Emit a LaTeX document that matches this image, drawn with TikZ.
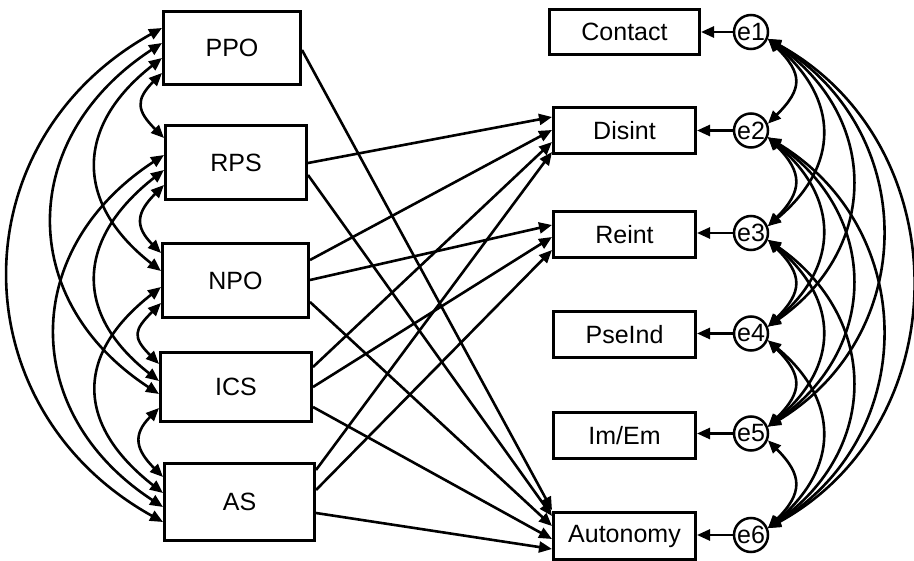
\documentclass[tikz,border=0pt]{standalone}
\usepackage{fontspec}
\setmainfont{Liberation Sans}
\usetikzlibrary{arrows.meta}
\begin{document}
\begin{tikzpicture}[x=1pt,y=1pt,
  box/.style={draw, line width=3pt, inner sep=0pt, font=\fontsize{25}{30}\selectfont},
  err/.style={draw, circle, line width=2.5pt, inner sep=0pt, minimum size=34pt, font=\fontsize{25}{30}\selectfont},
  arr/.style={-{Triangle[length=13pt,width=11pt]}, line width=2.6pt},
  biarr/.style={{Triangle[length=13pt,width=11pt]}-{Triangle[length=13pt,width=11pt]}, line width=2.6pt}]
\useasboundingbox (0,0) rectangle (914,-561);
% exogenous boxes
\node[box, minimum width=137pt, minimum height=73pt] (PPO) at (232,-48) {PPO};
\node[box, minimum width=141pt, minimum height=74pt] (RPS) at (236,-162.5) {RPS};
\node[box, minimum width=146pt, minimum height=74pt] (NPO) at (235.5,-280.5) {NPO};
\node[box, minimum width=151pt, minimum height=69pt] (ICS) at (236,-387) {ICS};
\node[box, minimum width=150pt, minimum height=77pt] (AS) at (239.5,-502) {AS};
% endogenous boxes
\node[box, minimum width=150pt, minimum height=45pt] (Contact) at (624.5,-32) {Contact};
\node[box, minimum width=142pt, minimum height=46pt] (Disint) at (624.5,-130.5) {Disint};
\node[box, minimum width=142pt, minimum height=46pt] (Reint) at (624.5,-235) {Reint};
\node[box, minimum width=142pt, minimum height=46pt] (PseInd) at (624.5,-334.5) {PseInd};
\node[box, minimum width=142pt, minimum height=46pt] (ImEm) at (624.5,-436) {Im/Em};
\node[box, minimum width=142pt, minimum height=46pt] (Autonomy) at (624.5,-536) {Autonomy};
% error terms
\node[err] (e1) at (751,-32) {e1};
\node[err] (e2) at (751,-130.5) {e2};
\node[err] (e3) at (751,-233) {e3};
\node[err] (e4) at (751,-333.5) {e4};
\node[err] (e5) at (751,-433.5) {e5};
\node[err] (e6) at (751,-535) {e6};
% error arrows
\draw[arr] (e1) -- (e1 -| Contact.east);
\draw[arr] (e2) -- (e2 -| Disint.east);
\draw[arr] (e3) -- (e3 -| Reint.east);
\draw[arr] (e4) -- (e4 -| PseInd.east);
\draw[arr] (e5) -- (e5 -| ImEm.east);
\draw[arr] (e6) -- (e6 -| Autonomy.east);
% regression paths
\draw[arr] ([yshift=-2pt]PPO.east) -- ([yshift=26pt]Autonomy.west);
\draw[arr] ([yshift=-0.5pt]RPS.east) -- ([yshift=13.5pt]Disint.west);
\draw[arr] ([yshift=-12.5pt]RPS.east) -- ([yshift=20pt]Autonomy.west);
\draw[arr] ([yshift=20.5pt]NPO.east) -- ([yshift=0.5pt]Disint.west);
\draw[arr] ([yshift=0.5pt]NPO.east) -- ([yshift=10pt]Reint.west);
\draw[arr] ([yshift=-21.5pt]NPO.east) -- ([yshift=10pt]Autonomy.west);
\draw[arr] ([yshift=20pt]ICS.east) -- ([yshift=-11.5pt]Disint.west);
\draw[arr] (ICS.east) -- ([yshift=-2pt]Reint.west);
\draw[arr] ([yshift=-20pt]ICS.east) -- ([yshift=-3pt]Autonomy.west);
\draw[arr] ([yshift=32pt]AS.east) -- ([yshift=-21.5pt]Disint.west);
\draw[arr] ([yshift=12pt]AS.east) -- ([yshift=-15pt]Reint.west);
\draw[arr] ([yshift=-11pt]AS.east) -- ([yshift=-13pt]Autonomy.west);
% covariances among exogenous variables
\draw[biarr] ([yshift=-25pt]PPO.west) .. controls +(-27,-27) and +(-27,27) .. ([yshift=24.5pt]RPS.west);
\draw[biarr] ([yshift=-22.5pt]RPS.west) .. controls +(-27,-27) and +(-27,27) .. ([yshift=27.5pt]NPO.west);
\draw[biarr] ([yshift=-22.5pt]NPO.west) .. controls +(-27,-27) and +(-27,27) .. ([yshift=23pt]ICS.west);
\draw[biarr] ([yshift=-21pt]ICS.west) .. controls +(-27,-27) and +(-27,27) .. ([yshift=25pt]AS.west);
\draw[biarr] ([yshift=-10pt]PPO.west) .. controls +(-87,-68) and +(-87,68) .. ([yshift=9.5pt]NPO.west);
\draw[biarr] ([yshift=-7.5pt]RPS.west) .. controls +(-87,-68) and +(-87,68) .. ([yshift=6pt]ICS.west);
\draw[biarr] ([yshift=-6.5pt]NPO.west) .. controls +(-87,-68) and +(-87,68) .. ([yshift=9pt]AS.west);
\draw[biarr] ([yshift=5pt]PPO.west) .. controls +(-144,-94) and +(-144,94) .. ([yshift=-7pt]ICS.west);
\draw[biarr] ([yshift=7.5pt]RPS.west) .. controls +(-144,-94) and +(-144,94) .. ([yshift=-5pt]AS.west);
\draw[biarr] ([yshift=20pt]PPO.west) .. controls +(-205,-114) and +(-205,114) .. ([yshift=-20pt]AS.west);
% covariances among error terms
\draw[biarr] (e1.-22) .. controls +(35,-35) and +(35,35) .. (e2.22);
\draw[biarr] (e2.-22) .. controls +(35,-35) and +(35,35) .. (e3.22);
\draw[biarr] (e3.-22) .. controls +(35,-35) and +(35,35) .. (e4.22);
\draw[biarr] (e4.-22) .. controls +(35,-35) and +(35,35) .. (e5.22);
\draw[biarr] (e5.-22) .. controls +(35,-35) and +(35,35) .. (e6.22);
\draw[biarr] (e1.-22) .. controls +(72,-60) and +(72,60) .. (e3.22);
\draw[biarr] (e2.-22) .. controls +(72,-60) and +(72,60) .. (e4.22);
\draw[biarr] (e3.-22) .. controls +(72,-60) and +(72,60) .. (e5.22);
\draw[biarr] (e4.-22) .. controls +(72,-60) and +(72,60) .. (e6.22);
\draw[biarr] (e1.-22) .. controls +(112,-78) and +(112,78) .. (e4.22);
\draw[biarr] (e2.-22) .. controls +(112,-78) and +(112,78) .. (e5.22);
\draw[biarr] (e3.-22) .. controls +(112,-78) and +(112,78) .. (e6.22);
\draw[biarr] (e1.-22) .. controls +(152,-92) and +(152,92) .. (e5.22);
\draw[biarr] (e2.-22) .. controls +(152,-92) and +(152,92) .. (e6.22);
\draw[biarr] (e1.-22) .. controls +(192,-105) and +(192,105) .. (e6.22);
\end{tikzpicture}
\end{document}
